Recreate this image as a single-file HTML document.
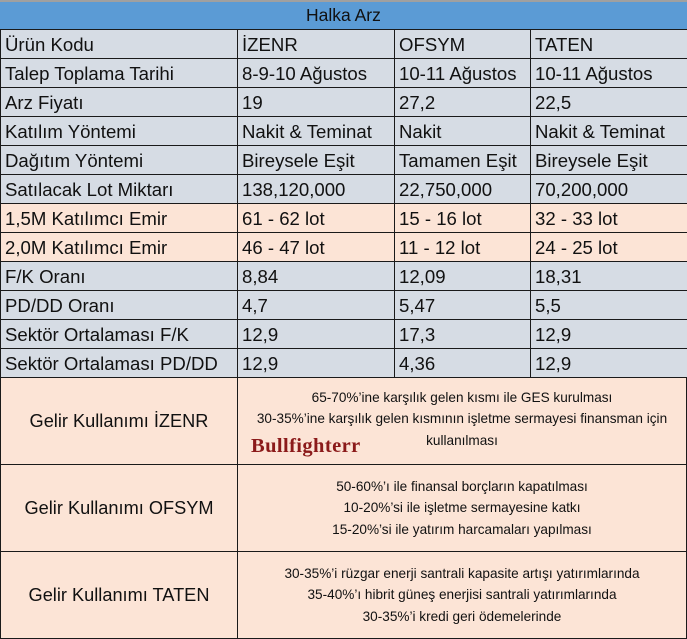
<!DOCTYPE html>
<html><head><meta charset="utf-8"><style>
body{margin:0;width:687px;height:639px;background:#fff;position:relative;overflow:hidden;font-family:"Liberation Sans",sans-serif;}
.c{position:absolute;box-sizing:border-box;border:1px solid #1a1a1a;font-size:18.6px;color:#111;white-space:nowrap;overflow:hidden;padding-left:4px;line-height:29px;}
.g{background:#d6dce4}.p{background:#fce4d6}
.b{position:absolute;box-sizing:border-box;border:1px solid #1a1a1a;background:#fce4d6;color:#111;text-align:center;}
.lab{display:flex;align-items:center;justify-content:center;font-size:18.2px;}
.txt{font-size:13.6px;line-height:21.5px;display:flex;flex-direction:column;justify-content:center;white-space:nowrap;}
</style></head><body>
<div style="position:absolute;left:0;top:0;width:687px;height:2px;background:#a0a0a0"></div>
<div style="position:absolute;left:0;top:2px;width:687px;height:28px;background:#5b9bd5;border-bottom:1px solid #1a1a1a;box-sizing:border-box;font-size:17.5px;line-height:27px;padding-left:306px;color:#111">Halka Arz</div>
<div id="rows"></div>
<div class="b lab" style="left:0;top:377px;width:238px;height:88px">Gelir Kullanımı İZENR</div>
<div class="b txt" style="left:237px;top:377px;width:450px;height:88px;padding-bottom:4px">
<div>65-70%’ine karşılık gelen kısmı ile GES  kurulması</div>
<div>30-35%’ine karşılık gelen kısmının işletme sermayesi finansman için</div>
<div>kullanılması</div></div>
<div style="position:absolute;left:251px;top:435px;font-family:'Liberation Serif',serif;font-weight:bold;font-size:20.5px;color:#8b1a1a;letter-spacing:0.4px">Bullfighterr</div>
<div class="b lab" style="left:0;top:464px;width:238px;height:88px">Gelir Kullanımı OFSYM</div>
<div class="b txt" style="left:237px;top:464px;width:450px;height:88px">
<div>50-60%’ı ile finansal borçların kapatılması</div>
<div>10-20%’si ile işletme sermayesine katkı</div>
<div>15-20%’si ile yatırım harcamaları yapılması</div></div>
<div class="b lab" style="left:0;top:551px;width:238px;height:88px">Gelir Kullanımı TATEN</div>
<div class="b txt" style="left:237px;top:551px;width:450px;height:88px">
<div>30-35%’i rüzgar enerji santrali kapasite artışı yatırımlarında</div>
<div>35-40%’ı hibrit güneş enerjisi santrali yatırımlarında</div>
<div>30-35%’i kredi geri ödemelerinde</div></div>
<script>
const rows=[
["Ürün Kodu","İZENR","OFSYM","TATEN","g"],
["Talep Toplama Tarihi","8-9-10 Ağustos","10-11 Ağustos","10-11 Ağustos","g"],
["Arz Fiyatı","19","27,2","22,5","g"],
["Katılım Yöntemi","Nakit & Teminat","Nakit","Nakit & Teminat","g"],
["Dağıtım Yöntemi","Bireysele Eşit","Tamamen Eşit","Bireysele Eşit","g"],
["Satılacak Lot Miktarı","138,120,000","22,750,000","70,200,000","g"],
["1,5M Katılımcı Emir","61 - 62 lot","15 - 16 lot","32 - 33 lot","p"],
["2,0M Katılımcı Emir","46 - 47 lot","11 - 12 lot","24 - 25 lot","p"],
["F/K Oranı","8,84","12,09","18,31","g"],
["PD/DD Oranı","4,7","5,47","5,5","g"],
["Sektör Ortalaması F/K","12,9","17,3","12,9","g"],
["Sektör Ortalaması PD/DD","12,9","4,36","12,9","g"]];
const xs=[0,237,394,530,687];
const host=document.getElementById('rows');
rows.forEach((r,i)=>{
  const top=29+i*29;
  for(let j=0;j<4;j++){
    const d=document.createElement('div');
    d.className='c '+r[4];
    
    
    d.style.left=xs[j]+'px';d.style.top=top+'px';
    d.style.width=(xs[j+1]-xs[j]+1)+'px';d.style.height='30px';
    d.textContent=r[j];
    host.appendChild(d);
  }
});
</script>
</body></html>
